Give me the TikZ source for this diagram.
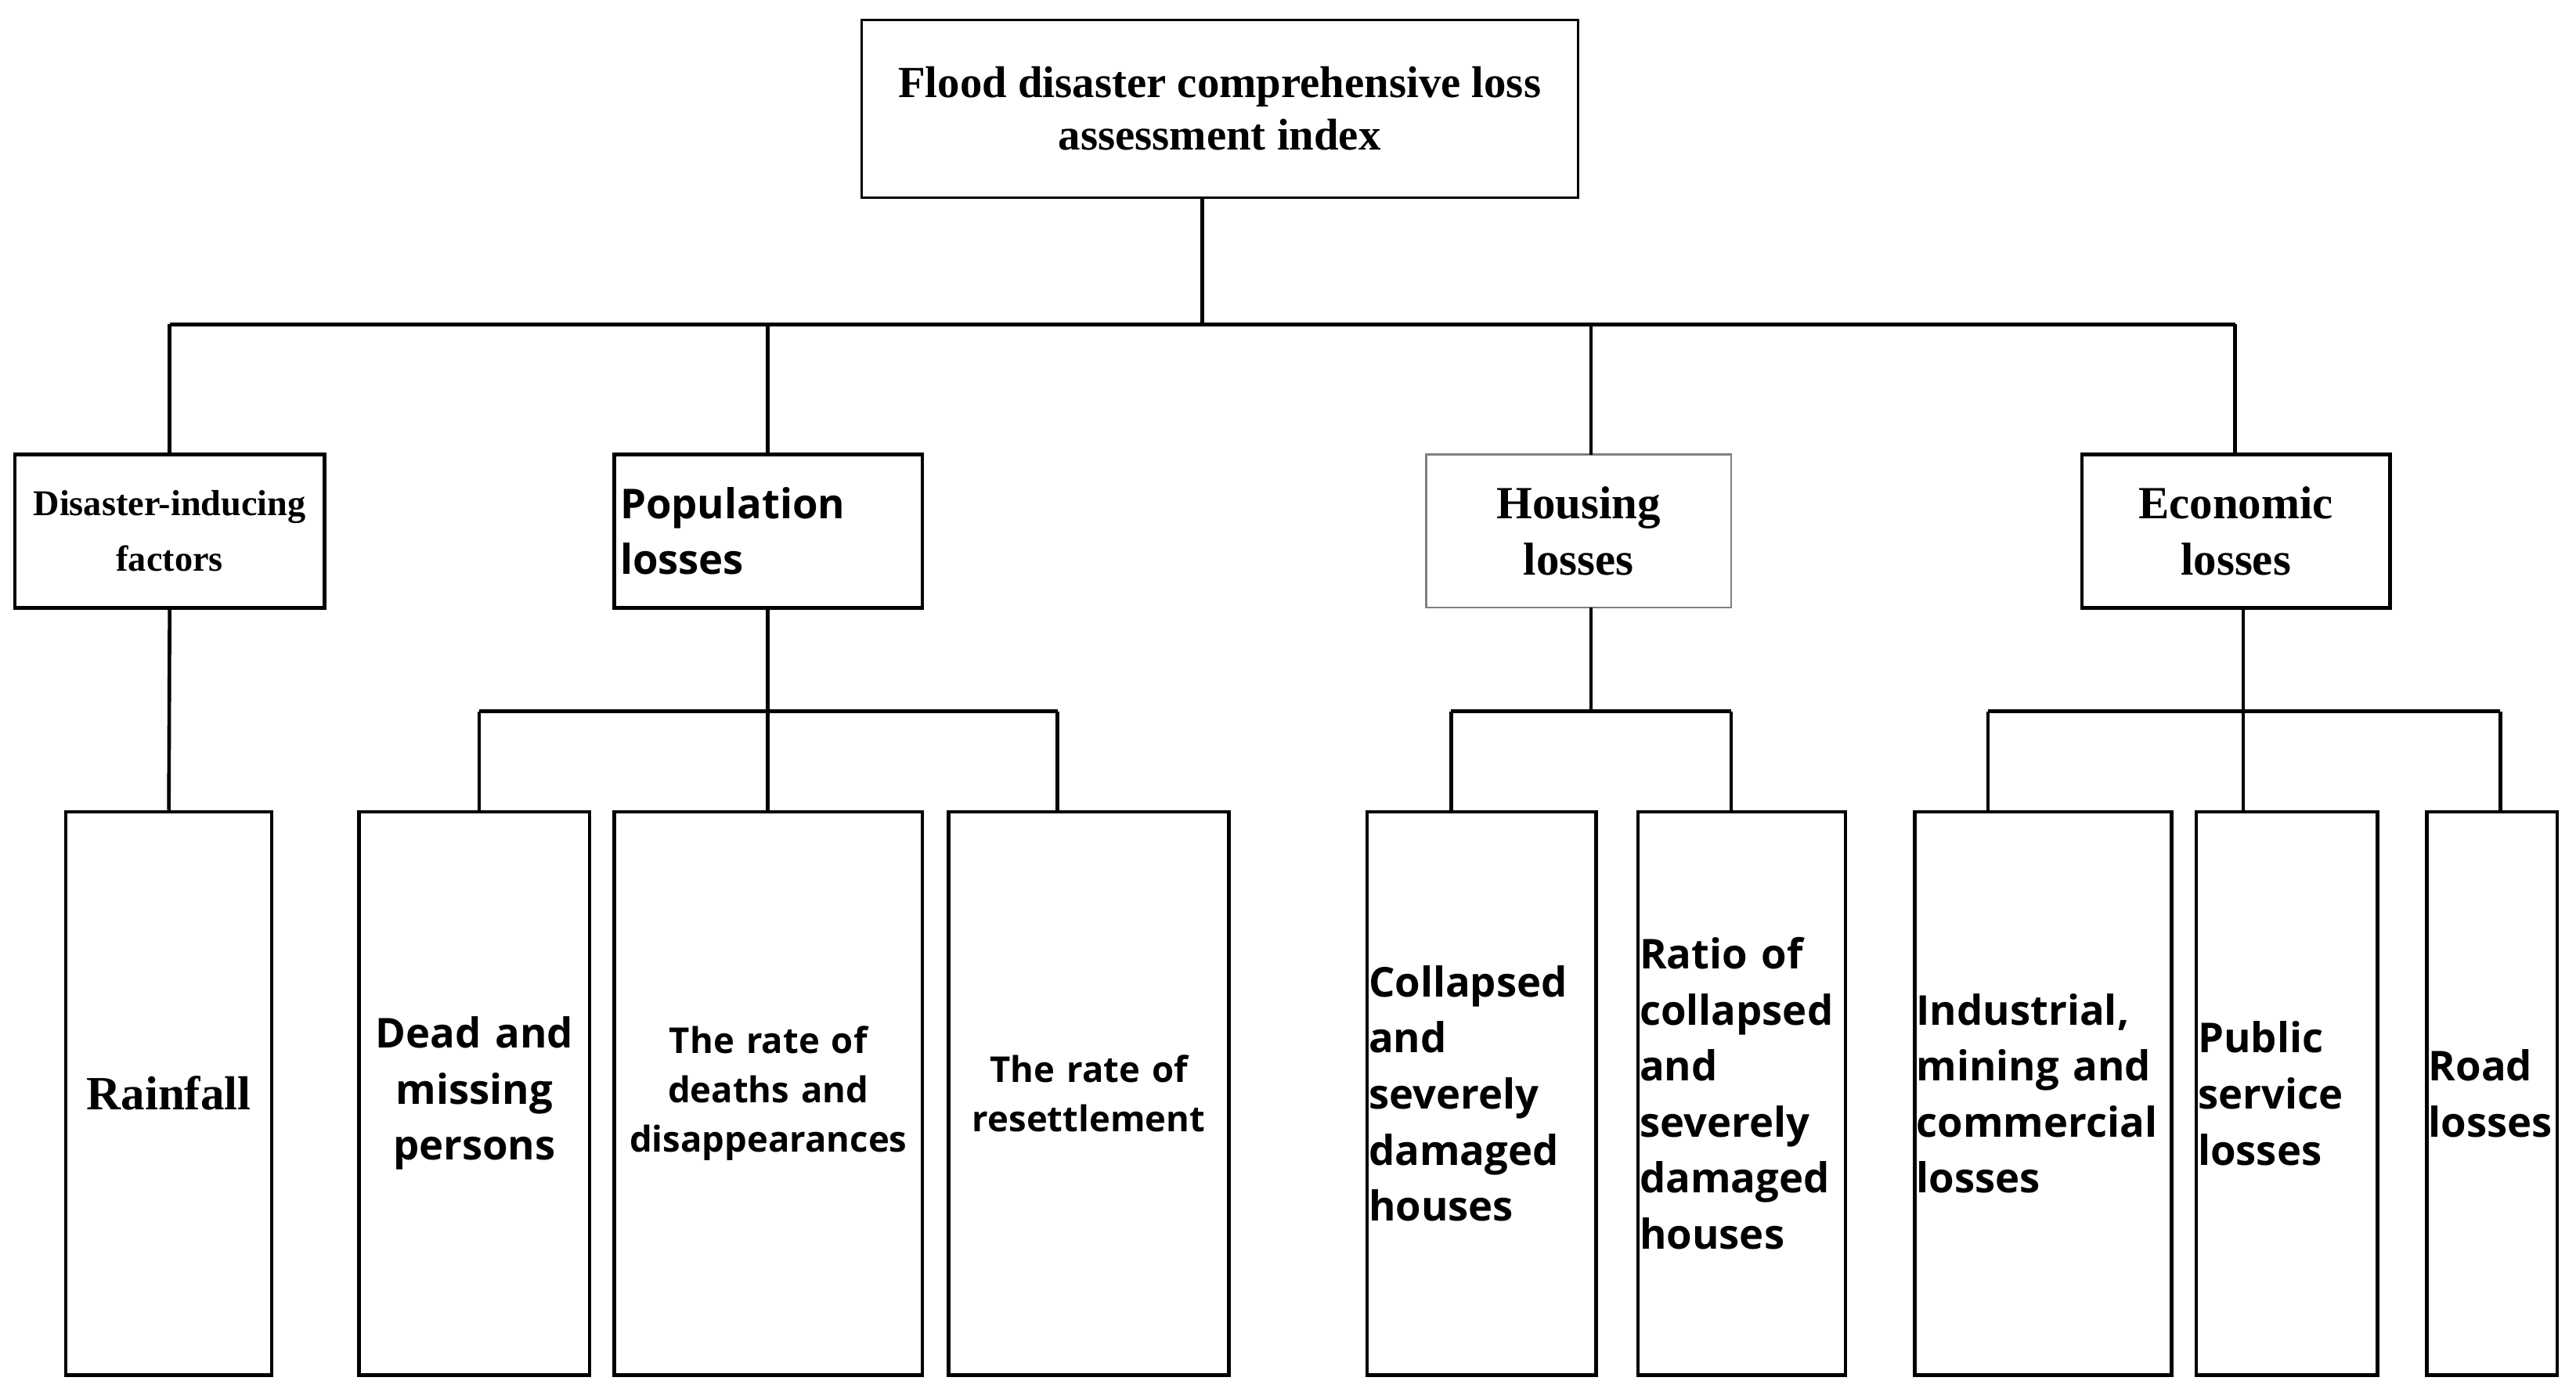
\documentclass[tikz,border=0pt]{standalone}
\usepackage{fontspec}
\setmainfont{Liberation Serif}
\newfontfamily\osans{Open Sans}
\begin{document}
\begin{tikzpicture}[x=0.5pt,y=-0.5pt,
 bx/.style={draw,line width=1.1pt,inner sep=1pt,align=center},
 ln/.style={line width=1.1pt}]
\useasboundingbox (0,0) rectangle (1564,849.5);
% top
\node[bx,minimum width=217.5pt,minimum height=54pt,font=\bfseries\fontsize{13.5}{16}\selectfont,line width=0.8pt] (top) at (740.5,66) {Flood disaster comprehensive loss\\assessment index};
% level 2
\node[bx,minimum width=94pt,minimum height=46.5pt,text width=93pt,inner sep=0.5pt,font=\bfseries\fontsize{11}{17}\selectfont] (dif) at (103,322.5) {Disaster-inducing\\factors};
\node[bx,minimum width=93.5pt,minimum height=46.5pt,text width=90pt,align=left,font=\osans\bfseries\fontsize{12.5}{17}\selectfont] (pop) at (466.5,322.5) {Population\\losses};
\node[bx,draw=gray,line width=0.6pt,minimum width=92.5pt,minimum height=46.5pt,font=\bfseries\fontsize{14}{17}\selectfont] (hou) at (958.5,322.5) {Housing\\losses};
\node[bx,minimum width=93.5pt,minimum height=46.5pt,font=\bfseries\fontsize{14}{17}\selectfont] (eco) at (1357.5,322.5) {Economic\\losses};
% level 3
\tikzset{l3/.style={bx,minimum height=171pt,font=\osans\bfseries\fontsize{12.5}{17}\selectfont,inner sep=0.5pt}}
\node[l3,minimum width=62.5pt,text width=60pt,font=\bfseries\fontsize{14.5}{17}\selectfont] (rain) at (102.5,664) {Rainfall};
\node[l3,minimum width=70pt,text width=69pt] (dead) at (288,664) {Dead and\\missing\\persons};
\node[l3,minimum width=93.5pt,text width=92pt,font=\osans\bfseries\fontsize{10.8}{15}\selectfont] (rdd) at (466.5,664) {The rate of\\deaths and\\disappearances};
\node[l3,minimum width=85pt,text width=84pt,font=\osans\bfseries\fontsize{10.8}{15}\selectfont] (res) at (661,664) {The rate of\\resettlement};
\node[l3,minimum width=69.5pt,text width=68.5pt,align=left] (col) at (899.5,664) {Collapsed\\and\\severely\\damaged\\houses};
\node[l3,minimum width=62.5pt,text width=62pt,align=left] (rat) at (1057.5,664) {Ratio of\\collapsed\\and\\severely\\damaged\\houses};
\node[l3,minimum width=77.5pt,text width=77pt,align=left] (ind) at (1240.5,664) {Industrial,\\mining and\\commercial\\losses};
\node[l3,minimum width=54.5pt,text width=54pt,align=left] (pub) at (1388.5,664) {Public\\service\\losses};
\node[l3,minimum width=39pt,text width=38.5pt,align=left] (road) at (1513,664) {Road\\losses};
% connectors
\coordinate (b1) at (730,197);
\draw[ln] (top.south -| b1) -- (b1);
\draw[ln] (103,197) -- (1357,197);
\draw[ln] (103,197) -- (dif.north);
\draw[ln] (466,197) -- (466,276);
\draw[ln] (966,197) -- (966,276);
\draw[ln] (1357,197) -- (1357,276);
\draw[ln] (dif.south) -- (rain.north);
\draw[ln] (466,369) -- (466,493);
\draw[ln] (291,432) -- (642,432);
\draw[ln] (291,432) -- (291,493);
\draw[ln] (642,432) -- (642,493);
\draw[ln] (966,369) -- (966,432);
\draw[ln] (881,432) -- (1051,432);
\draw[ln] (881,432) -- (881,493);
\draw[ln] (1051,432) -- (1051,493);
\draw[ln] (1362,369) -- (1362,493);
\draw[ln] (1207,432) -- (1518,432);
\draw[ln] (1207,432) -- (1207,493);
\draw[ln] (1518,432) -- (1518,493);
\end{tikzpicture}
\end{document}
